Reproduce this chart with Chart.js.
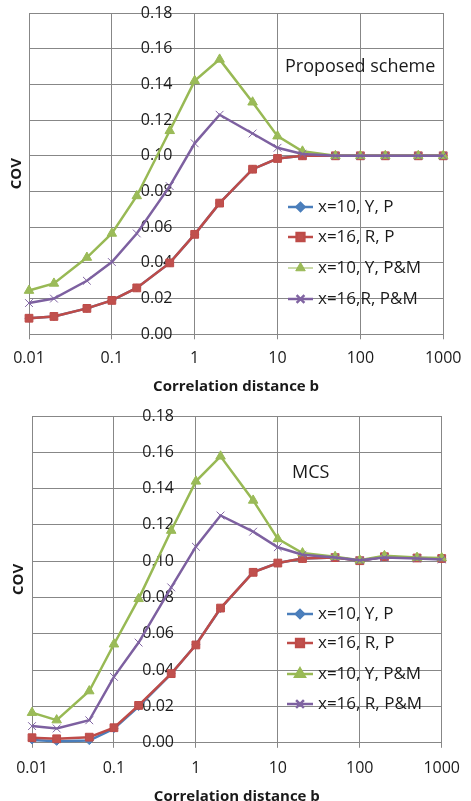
<!DOCTYPE html>
<html>
<head>
<meta charset="utf-8">
<script src="https://cdn.jsdelivr.net/npm/chart.js@4/dist/chart.umd.min.js"></script>
<style>
  body { margin: 0; background: #fff; }
  canvas { display: block; }
</style>
</head>
<body>
<canvas id="proposedChart" width="471" height="400"></canvas>
<canvas id="mcsChart" width="471" height="401"></canvas>
<script>
// correlation distance b (x values of every series)
const bValues = [0.01, 0.02, 0.05, 0.1, 0.2, 0.5, 1, 2, 5, 10, 20, 50, 100, 200, 500, 1000];
const xTickValues = [0.01, 0.1, 1, 10, 100, 1000];
const xTickLabels = ['0.01', '0.1', '1', '10', '100', '1000'];
const yTickValues = [0, 0.02, 0.04, 0.06, 0.08, 0.10, 0.12, 0.14, 0.16, 0.18];

const labelsProposed = ['x=10, Y, P', 'x=16, R, P', 'x=10, Y, P&M', 'x=16,R, P&M'];
const labelsMcs = ['x=10, Y, P', 'x=16, R, P', 'x=10, Y, P&M', 'x=16, R, P&M'];

// Proposed scheme
const propY10P = [0.009, 0.010, 0.0145, 0.019, 0.026, 0.040, 0.056, 0.0735, 0.0925, 0.0985, 0.100, 0.100, 0.100, 0.100, 0.100, 0.100];
const propR16P = [0.009, 0.010, 0.0145, 0.019, 0.026, 0.040, 0.056, 0.0735, 0.0925, 0.0985, 0.100, 0.100, 0.100, 0.100, 0.100, 0.100];
const propY10PM = [0.0245, 0.0285, 0.043, 0.0565, 0.0775, 0.114, 0.142, 0.154, 0.130, 0.111, 0.1025, 0.100, 0.100, 0.100, 0.100, 0.100];
const propR16PM = [0.0175, 0.020, 0.030, 0.0405, 0.0565, 0.083, 0.107, 0.123, 0.1125, 0.1045, 0.101, 0.100, 0.100, 0.100, 0.100, 0.100];

// MCS
const mcsY10P = [0.0015, 0.0008, 0.0012, 0.0078, 0.020, 0.038, 0.054, 0.074, 0.094, 0.099, 0.1015, 0.102, 0.1003, 0.1025, 0.1018, 0.1015];
const mcsR16P = [0.0028, 0.0022, 0.0031, 0.0083, 0.0206, 0.0381, 0.0539, 0.0742, 0.0939, 0.099, 0.1015, 0.102, 0.1003, 0.1025, 0.1018, 0.1015];
const mcsY10PM = [0.0166, 0.0125, 0.0285, 0.0543, 0.0793, 0.1169, 0.144, 0.1578, 0.1335, 0.1123, 0.1045, 0.1025, 0.1005, 0.103, 0.102, 0.1018];
const mcsR16PM = [0.0092, 0.0079, 0.0124, 0.0363, 0.0552, 0.0856, 0.108, 0.1252, 0.1163, 0.1077, 0.1036, 0.102, 0.1005, 0.102, 0.1015, 0.101];

const FONT = "'Open Sans', 'Noto Sans', sans-serif";
const GRID = '#878787';
const TEXT = '#1a1a1a';

// look of the four series (Excel 2007 defaults)
const seriesStyles = [
    { line: '#4A7EBB', fill: '#4F81BD', pointStyle: 'rectRot', radius: 4, order: 4 },
    { line: '#BE4B48', fill: '#C0504D', pointStyle: 'rect', radius: 5.5, order: 3 },
    { line: '#98B954', fill: '#9BBB59', pointStyle: 'triangle', radius: 5.5, order: 2 },
    { line: '#7D60A0', fill: '#8064A2', pointStyle: 'crossRot', radius: 5.5, order: 1 }
];

function toPoints(values) {
    return values.map((v, i) => ({ x: bValues[i], y: v }));
}

// legend with a line sample and marker, drawn inside the plot
const insideLegend = {
    id: 'insideLegend',
    afterDatasetsDraw(chart, args, opts) {
        const ctx = chart.ctx;
        ctx.save();
        chart.data.datasets.forEach((ds, i) => {
            const y = opts.rows[i];
            const lw = (opts.lineWidths && opts.lineWidths[i]) || ds.borderWidth;
            ctx.strokeStyle = ds.borderColor;
            ctx.lineWidth = lw;
            ctx.beginPath();
            ctx.moveTo(opts.x0, y);
            ctx.lineTo(opts.x1, y);
            ctx.stroke();
            ctx.fillStyle = ds.pointBackgroundColor;
            ctx.strokeStyle = ds.pointBorderColor;
            Chart.helpers.drawPoint(ctx, {
                pointStyle: ds.pointStyle,
                radius: ds.pointRadius,
                borderWidth: ds.pointBorderWidth,
                rotation: 0
            }, (opts.x0 + opts.x1) / 2, y);
            ctx.fillStyle = TEXT;
            ctx.font = opts.font;
            ctx.textBaseline = 'middle';
            ctx.textAlign = 'left';
            ctx.fillText(ds.label, opts.textX, y);
        });
        ctx.restore();
    }
};

const plotNote = {
    id: 'plotNote',
    afterDraw(chart, args, opts) {
        const ctx = chart.ctx;
        ctx.save();
        ctx.fillStyle = TEXT;
        ctx.font = opts.font;
        ctx.textBaseline = 'middle';
        ctx.textAlign = 'left';
        ctx.fillText(opts.text, opts.x, opts.y);
        ctx.restore();
    }
};

function createCovChart(canvasId, labels, seriesValues, cfg) {
    const ctx = document.getElementById(canvasId).getContext('2d');

    const datasets = seriesValues.map((values, i) => {
        const s = seriesStyles[i];
        return {
            label: labels[i],
            data: toPoints(values),
            borderColor: s.line,
            backgroundColor: s.fill,
            borderWidth: 2.5,
            pointStyle: s.pointStyle,
            pointRadius: s.radius,
            pointBackgroundColor: s.fill,
            pointBorderColor: s.pointStyle === 'crossRot' ? s.fill : s.line,
            pointBorderWidth: 1,
            tension: 0,
            clip: false,
            order: s.order
        };
    });

    return new Chart(ctx, {
        type: 'line',
        data: { datasets: datasets },
        options: {
            responsive: false,
            animation: false,
            layout: { padding: cfg.padding },
            scales: {
                x: {
                    type: 'logarithmic',
                    min: 0.01,
                    max: 1000,
                    afterBuildTicks: (scale) => {
                        scale.ticks = xTickValues.map(v => ({ value: v }));
                    },
                    ticks: {
                        autoSkip: false,
                        maxRotation: 0,
                        padding: cfg.xTickPadding,
                        color: TEXT,
                        font: { family: FONT, size: 16 },
                        callback: (value, index) => xTickLabels[index]
                    },
                    grid: { color: GRID, tickLength: 5, tickColor: GRID },
                    border: { color: GRID },
                    title: {
                        display: true,
                        text: 'Correlation distance b',
                        color: TEXT,
                        font: { family: FONT, size: 15, weight: 'bold', lineHeight: 1.0 },
                        padding: cfg.xTitlePadding
                    }
                },
                y: {
                    type: 'linear',
                    position: { x: cfg.yAxisAt },
                    min: 0,
                    max: 0.18,
                    afterBuildTicks: (scale) => {
                        scale.ticks = yTickValues.map(v => ({ value: v }));
                    },
                    ticks: {
                        color: TEXT,
                        font: { family: FONT, size: 16 },
                        callback: (value) => value.toFixed(2)
                    },
                    grid: { color: GRID, drawTicks: false },
                    border: { display: false }
                }
            },
            plugins: {
                legend: { display: false },
                tooltip: { enabled: false },
                title: {
                    display: true,
                    position: 'left',
                    fullSize: false,
                    text: 'COV',
                    color: TEXT,
                    font: { family: FONT, size: 15, weight: 'bold', lineHeight: 1.2 },
                    padding: cfg.covPadding
                },
                insideLegend: cfg.legend,
                plotNote: cfg.note
            }
        },
        plugins: [insideLegend, plotNote]
    });
}

document.addEventListener('DOMContentLoaded', () => {
    createCovChart('proposedChart', labelsProposed, [propY10P, propR16P, propY10PM, propR16PM], {
        padding: { left: 0, right: 20, top: 13, bottom: 5.5 },
        yAxisAt: 0.54,
        xTickPadding: 9.5,
        xTitlePadding: { top: 2, bottom: 0 },
        covPadding: { top: 8, bottom: 3 },
        legend: {
            x0: 288, x1: 313, textX: 318,
            rows: [207, 237, 268, 299],
            lineWidths: [0, 0, 1, 0],
            font: "17px " + FONT
        },
        note: { text: 'Proposed scheme', x: 285, y: 67, font: "18px " + FONT }
    });

    createCovChart('mcsChart', labelsMcs, [mcsY10P, mcsR16P, mcsY10PM, mcsR16PM], {
        padding: { left: 0, right: 20, top: 16, bottom: -3 },
        yAxisAt: 0.54,
        xTickPadding: 11,
        xTitlePadding: { top: 0, bottom: 0 },
        covPadding: { top: 9.5, bottom: 4.5 },
        legend: {
            x0: 287, x1: 313, textX: 318,
            rows: [214, 243, 274, 304],
            font: "17px " + FONT
        },
        note: { text: 'MCS', x: 292, y: 73, font: "18px " + FONT }
    });
});
</script>
</body>
</html>
